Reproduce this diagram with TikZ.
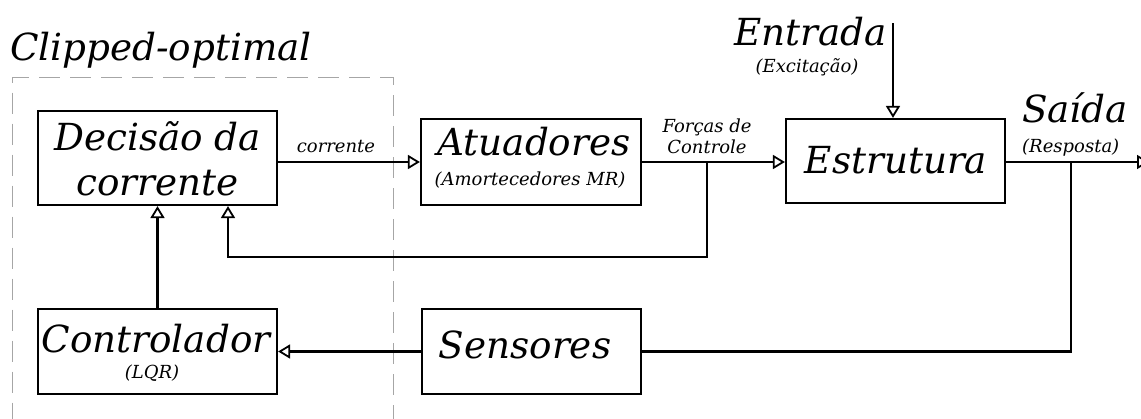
\documentclass[tikz,border=0pt]{standalone}
\usepackage{fontspec}
\setmainfont{DejaVu Serif}
\usetikzlibrary{arrows.meta}
\tikzset{
  blk/.style={draw, line width=2.2pt, inner sep=0pt},
  big/.style={inner sep=0pt, font=\fontsize{37.3}{42}\selectfont\itshape},
  sml/.style={inner sep=0pt, font=\fontsize{18}{21}\selectfont\itshape},
  arr/.style={line width=2.2pt, -{Triangle[open, length=12pt, width=14pt, line width=1.8pt]}},
  wire/.style={line width=2.2pt},
  dashbox/.style={draw=gray!70, line width=1.2pt, dash pattern=on 21pt off 10pt, inner sep=0pt}
}
\begin{document}
\begin{tikzpicture}[x=1pt,y=-1pt]
\useasboundingbox (0,0) rectangle (1141,418);
% frame
\node[dashbox, minimum width=381pt, minimum height=370pt, anchor=north west] (clip) at (12,77) {};
\node[big, anchor=base west] (clipt) at (10,60) {Clipped-optimal};
% boxes
\node[blk, minimum width=239pt, minimum height=94pt] (dec) at (157.5,158) {};
\node[blk, minimum width=220pt, minimum height=86pt] (atu) at (531,162) {};
\node[blk, minimum width=219pt, minimum height=84pt] (est) at (895.5,161) {};
\node[blk, minimum width=239pt, minimum height=85pt] (ctl) at (157.5,351.5) {};
\node[blk, minimum width=219pt, minimum height=85pt] (sen) at (531.5,351.5) {};
% box texts
\node[big, anchor=base] (dect1) at (157.5,150) {Decisão da};
\node[big, anchor=base] (dect2) at (157.5,195) {corrente};
\node[big, anchor=base] (atut) at (534,155) {Atuadores};
\node[sml, anchor=base] (atus) at (530,185) {(Amortecedores MR)};
\node[big, anchor=base] (estt) at (896,173) {Estrutura};
\node[big, anchor=base] (ctlt) at (156,352) {Controlador};
\node[sml, anchor=base] (ctls) at (152,378) {(LQR)};
\node[big, anchor=base] (sent) at (525,358) {Sensores};
% outer labels
\node[big, anchor=base east] (entt) at (887,45) {Entrada};
\node[sml, anchor=base] (exct) at (807,72) {(Excitação)};
\node[big, anchor=base west] (saidat) at (1022,122) {Saída};
\node[sml, anchor=base west] (respt) at (1022,152) {(Resposta)};
\node[sml, anchor=base] (corr) at (336,152) {corrente};
\node[sml, anchor=base] (forc1) at (707,132) {Forças de};
\node[sml, anchor=base] (forc2) at (707,153) {Controle};
% connectors
\coordinate (j1) at (707,162);
\coordinate (fb) at (228,257);
\coordinate (j2) at (1071,162);
\coordinate (out) at (1149,162);
\coordinate (in) at (893,23);
\draw[arr] (dec.east |- atu.west) -- (atu.west);
\draw[arr] (atu.east) -- (est.west |- atu.east);
\draw[arr] (j1) -- (j1 |- fb) -- (fb) -- (fb |- dec.south);
\draw[arr] (ctl.north) -- (dec.south -| ctl.north);
\draw[arr] (sen.west) -- (ctl.east);
\draw[wire] (j2) |- (sen.east);
\draw[arr] (est.east |- out) -- (out);
\draw[arr] (in) -- (in |- est.north);
\end{tikzpicture}
\end{document}
